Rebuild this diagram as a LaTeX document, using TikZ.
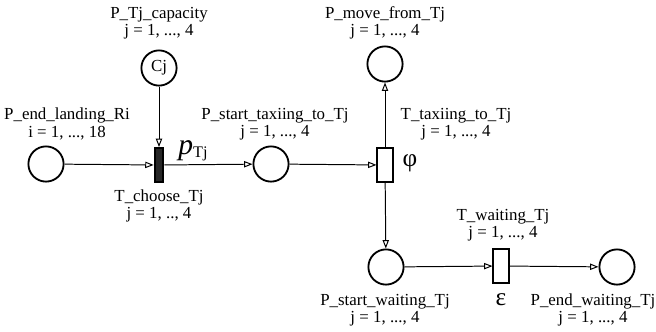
\documentclass[tikz,border=0pt]{standalone}
\usepackage{fontspec}
\setmainfont{Liberation Serif}
\usetikzlibrary{arrows.meta}

\begin{document}
\begin{tikzpicture}[x=0.025cm, y=-0.025cm,
    pn/.style={circle, draw, line width=1.3pt, minimum size=0.88cm, inner sep=0pt},
    tr/.style={rectangle, draw, line width=1.3pt, minimum width=0.38cm,
               minimum height=0.85cm, inner sep=0pt},
    trb/.style={tr, fill=black!85, minimum width=0.22cm},
    lb/.style={align=center, font=\fontsize{12}{12.5}\selectfont, inner sep=0pt},
    arc/.style={line width=0.7pt, -{Triangle[open, length=6pt, width=4.5pt]}}]
  \useasboundingbox (0,0) rectangle (656,331);
  % places
  \node[pn] (land)  at (46,164)  {};
  \node[pn] (cap)   at (159,68)  {\fontsize{12}{12}\selectfont Cj};
  \node[pn] (taxi)  at (271,164) {};
  \node[pn] (move)  at (385,64)  {};
  \node[pn] (swait) at (386,267) {};
  \node[pn] (ewait) at (617,267) {};
  % transitions
  \node[trb] (choose) at (159,165) {};
  \node[tr]  (ttaxi)  at (385,165) {};
  \node[tr]  (twait)  at (501,266) {};
  % arcs
  \draw[arc] (land)  -- (choose);
  \draw[arc] (cap)   -- (choose);
  \draw[arc] (choose) -- (taxi);
  \draw[arc] (taxi)  -- (ttaxi);
  \draw[arc] (ttaxi) -- (move);
  \draw[arc] (ttaxi) -- (swait);
  \draw[arc] (swait) -- (twait);
  \draw[arc] (twait) -- (ewait);
  % labels
  \node[lb] (capl)    at (159,23)  {P\_Tj\_capacity\\j = 1, ..., 4};
  \node[lb] (landl)   at (67,124)  {P\_end\_landing\_Ri\\i = 1, ..., 18};
  \node[lb] (taxil)   at (275,124) {P\_start\_taxiing\_to\_Tj\\j = 1, ..., 4};
  \node[lb] (choosel) at (159,206) {T\_choose\_Tj\\j = 1, .., 4};
  \node[lb] (movel)   at (385,23)  {P\_move\_from\_Tj\\j = 1, ..., 4};
  \node[lb] (ttaxil)  at (456,124) {T\_taxiing\_to\_Tj\\j = 1, ..., 4};
  \node[lb] (twaitl)  at (503,225) {T\_waiting\_Tj\\j = 1, ..., 4};
  \node[lb] (swaitl)  at (385,310) {P\_start\_waiting\_Tj\\j = 1, ..., 4};
  \node[lb] (ewaitl)  at (593,310) {P\_end\_waiting\_Tj\\j = 1, ..., 4};
  % rates
  \node[inner sep=0pt] (prate) at (193,151)
    {{\fontsize{21}{21}\selectfont\itshape p}\raisebox{-0.4ex}{\fontsize{11.5}{11.5}\selectfont Tj}};
  \node[inner sep=0pt, font=\fontsize{18}{18}\selectfont] (phi) at (410,163) {φ};
  \node[inner sep=0pt, font=\fontsize{18}{18}\selectfont] (eps) at (501,300) {ε};
\end{tikzpicture}
\end{document}
